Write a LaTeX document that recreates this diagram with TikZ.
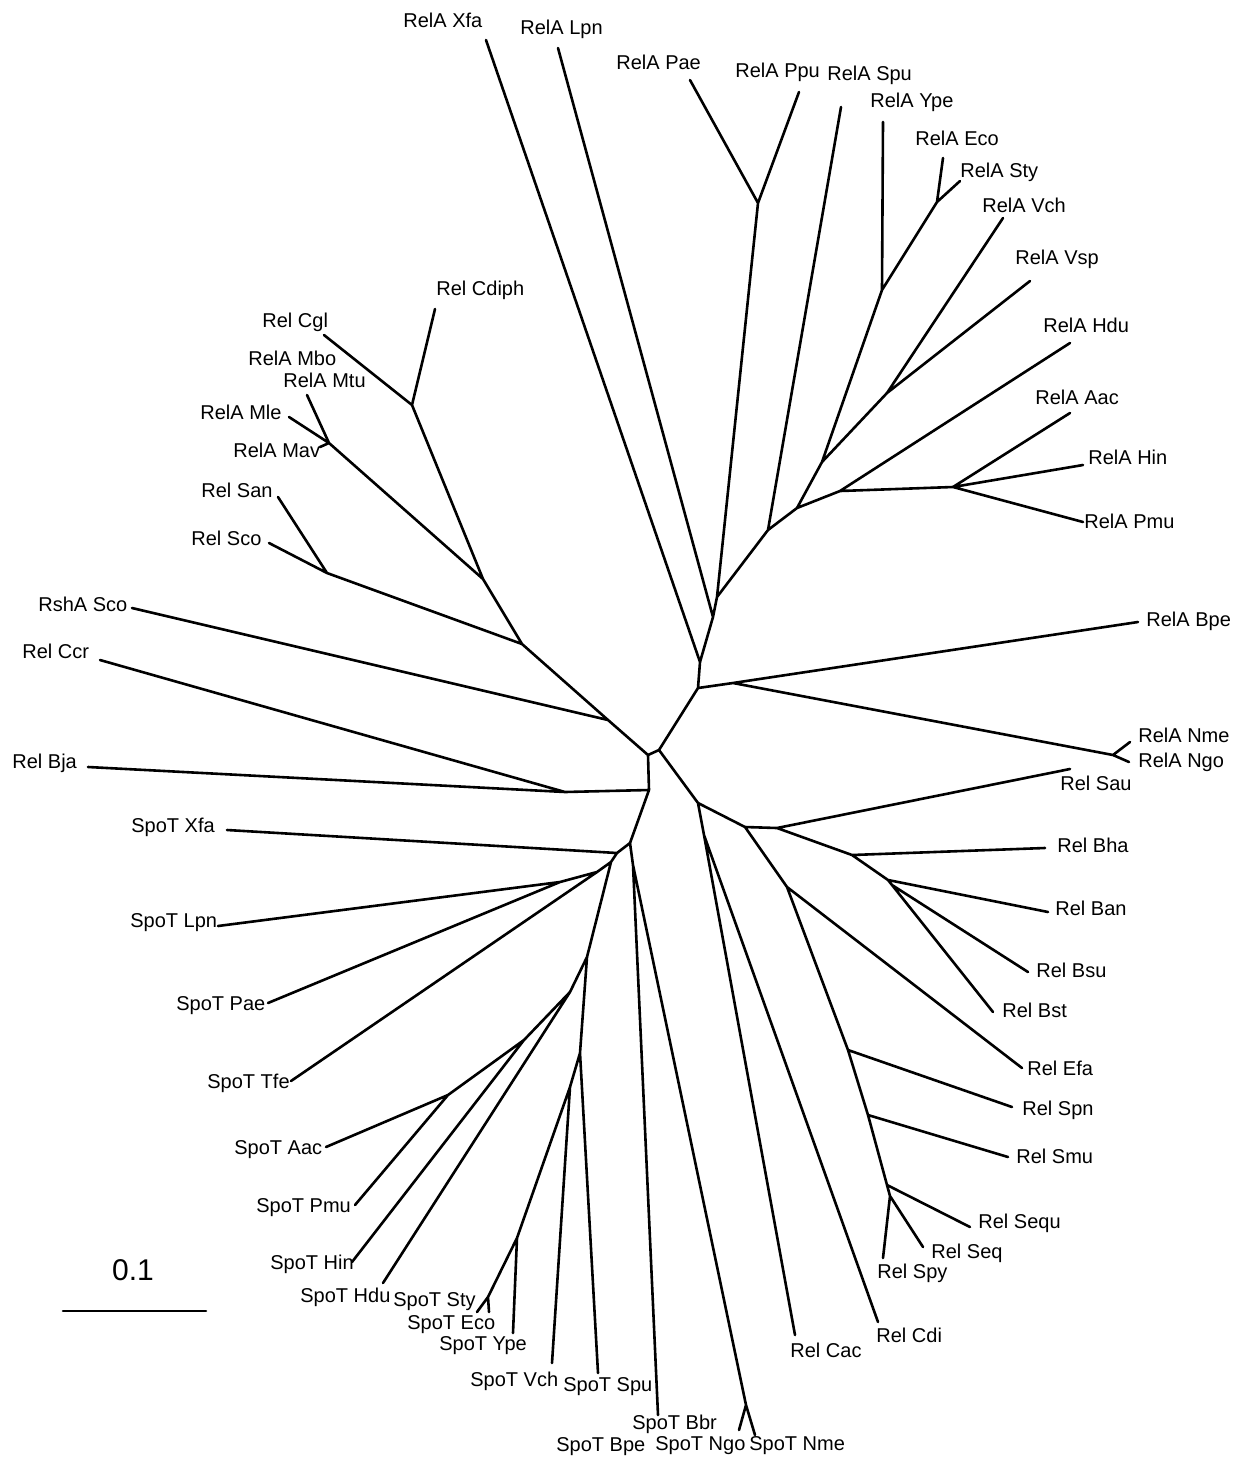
\documentclass[tikz,border=0pt]{standalone}
\usepackage{fontspec}
\setmainfont{Liberation Sans}
\begin{document}
\begin{tikzpicture}[x=0.5pt,y=-0.5pt,
  br/.style={line width=1.3pt, line cap=round, line join=round},
  lab/.style={inner sep=0pt, anchor=base west, font=\fontsize{10}{12}\selectfont}]
\useasboundingbox (0,0) rectangle (1242,1457);
% internal nodes
\coordinate (N0) at (648,755); \coordinate (N1) at (659,750);
\coordinate (B0) at (649,790); \coordinate (CB) at (565,792);
\coordinate (T1) at (608,720); \coordinate (T2) at (522,644);
\coordinate (T3) at (483,579); \coordinate (T4) at (412,405);
\coordinate (MV) at (329,443); \coordinate (SS) at (327,573);
\coordinate (A) at (698,688); \coordinate (X) at (700,662);
\coordinate (BN) at (733,683); \coordinate (NN) at (1113,755);
\coordinate (P1) at (713,617); \coordinate (P2) at (717,597);
\coordinate (PP) at (758,203); \coordinate (S1) at (768,530);
\coordinate (S2) at (797,508); \coordinate (V) at (822,462);
\coordinate (E) at (882,290); \coordinate (ES) at (937,202);
\coordinate (Vn) at (887,393); \coordinate (H) at (840,491);
\coordinate (HP) at (953,487);
\coordinate (R0) at (698,803); \coordinate (R1) at (745,827);
\coordinate (R2) at (704,835); \coordinate (R3) at (777,828);
\coordinate (R5) at (852,855); \coordinate (R6) at (888,880);
\coordinate (R7) at (892,885); \coordinate (R4) at (787,887);
\coordinate (R8) at (848,1050); \coordinate (R9) at (868,1115);
\coordinate (R10) at (887,1185); \coordinate (R11) at (890,1196);
\coordinate (N2) at (630,843); \coordinate (N3) at (617,853);
\coordinate (N4) at (633,865); \coordinate (N5) at (611,862);
\coordinate (Q) at (597,872); \coordinate (LP) at (560,882);
\coordinate (N6) at (587,957); \coordinate (N7) at (570,992);
\coordinate (N8) at (524,1040); \coordinate (N9) at (448,1095);
\coordinate (N10) at (580,1053); \coordinate (N11) at (570,1087);
\coordinate (E2) at (517,1238); \coordinate (ES2) at (488,1297);
\coordinate (NG) at (746,1405);
% leaf ends
\coordinate (lXfa) at (486,40); \coordinate (lLpn) at (558,48);
\coordinate (lPae) at (690,80); \coordinate (lPpu) at (799,92);
\coordinate (lSpu) at (841,107); \coordinate (lYpe) at (883,122);
\coordinate (lEco) at (943,158); \coordinate (lSty) at (960,181);
\coordinate (lVch) at (1003,218); \coordinate (lVsp) at (1030,281);
\coordinate (lHdu) at (1070,343); \coordinate (lAac) at (1070,413);
\coordinate (lHin) at (1083,465); \coordinate (lPmu) at (1083,522);
\coordinate (lBpe) at (1138,622); \coordinate (lNme) at (1130,742);
\coordinate (lNgo) at (1129,762); \coordinate (lSau) at (1070,769);
\coordinate (lBha) at (1045,848); \coordinate (lBan) at (1048,912);
\coordinate (lBsu) at (1028,972); \coordinate (lBst) at (993,1012);
\coordinate (lEfa) at (1022,1068); \coordinate (lSpn) at (1012,1107);
\coordinate (lSmu) at (1008,1157); \coordinate (lSequ) at (970,1227);
\coordinate (lSeq) at (923,1247); \coordinate (lSpy) at (883,1258);
\coordinate (lCdi) at (878,1322); \coordinate (lCac) at (795,1335);
\coordinate (sNme) at (755,1435); \coordinate (sNgo) at (739,1430);
\coordinate (sBbr) at (658,1415); \coordinate (sSpu) at (598,1373);
\coordinate (sVch) at (552,1363); \coordinate (sYpe) at (513,1333);
\coordinate (sEco) at (489,1312); \coordinate (sSty) at (477,1312);
\coordinate (sHdu) at (383,1283); \coordinate (sHin) at (352,1262);
\coordinate (sPmu) at (355,1205); \coordinate (sAac) at (326,1147);
\coordinate (sTfe) at (291,1081); \coordinate (sPae) at (268,1003);
\coordinate (sLpn) at (218,926); \coordinate (sXfa) at (227,830);
\coordinate (lBja) at (88,767); \coordinate (lCcr) at (100,660);
\coordinate (lRshA) at (132,608); \coordinate (lSco) at (269,543);
\coordinate (lSan) at (278,497); \coordinate (lMav) at (320,447);
\coordinate (lMle) at (289,417); \coordinate (lMtu) at (307,395);
\coordinate (lCgl) at (324,335); \coordinate (lCdiph) at (435,309);
% branches
\draw[br] (T4)--(lCdiph) (T4)--(lCgl) (T4)--(T3) (T3)--(MV) (MV)--(lMav) (MV)--(lMle) (MV)--(lMtu)
  (T3)--(T2) (T2)--(SS) (SS)--(lSan) (SS)--(lSco) (T2)--(T1) (T1)--(lRshA) (T1)--(N0)
  (N0)--(N1) (N0)--(B0) (B0)--(CB) (CB)--(lCcr) (CB)--(lBja) (B0)--(N2);
\draw[br] (N1)--(A) (A)--(X) (X)--(lXfa) (X)--(P1) (P1)--(lLpn) (P1)--(P2) (P2)--(PP)
  (PP)--(lPae) (PP)--(lPpu) (P2)--(S1) (S1)--(lSpu) (S1)--(S2) (S2)--(V) (V)--(E)
  (E)--(lYpe) (E)--(ES) (ES)--(lEco) (ES)--(lSty) (V)--(Vn) (Vn)--(lVch) (Vn)--(lVsp)
  (S2)--(H) (H)--(lHdu) (H)--(HP) (HP)--(lAac) (HP)--(lHin) (HP)--(lPmu)
  (A)--(BN) (BN)--(lBpe) (BN)--(NN) (NN)--(lNme) (NN)--(lNgo);
\draw[br] (N1)--(R0) (R0)--(R1) (R1)--(R3) (R3)--(lSau) (R3)--(R5) (R5)--(lBha) (R5)--(R6)
  (R6)--(lBan) (R6)--(R7) (R7)--(lBsu) (R7)--(lBst) (R1)--(R4) (R4)--(lEfa) (R4)--(R8)
  (R8)--(lSpn) (R8)--(R9) (R9)--(lSmu) (R9)--(R10) (R10)--(lSequ) (R10)--(R11)
  (R11)--(lSpy) (R11)--(lSeq) (R0)--(R2) (R2)--(lCac) (R2)--(lCdi);
\draw[br] (N2)--(N3) (N3)--(sXfa) (N3)--(N5) (N5)--(Q) (Q)--(sTfe) (Q)--(LP) (LP)--(sLpn)
  (LP)--(sPae) (N5)--(N6) (N6)--(N7) (N7)--(sHdu) (N7)--(N8) (N8)--(sHin) (N8)--(N9)
  (N9)--(sAac) (N9)--(sPmu) (N6)--(N10) (N10)--(sSpu) (N10)--(N11) (N11)--(sVch)
  (N11)--(E2) (E2)--(sYpe) (E2)--(ES2) (ES2)--(sSty) (ES2)--(sEco)
  (N2)--(N4) (N4)--(sBbr) (N4)--(NG) (NG)--(sNgo) (NG)--(sNme);
% labels
\node[lab] (t1) at (403,27) {RelA Xfa};
\node[lab] (t2) at (520,34) {RelA Lpn};
\node[lab] (t3) at (616,69) {RelA Pae};
\node[lab] (t4) at (735,77) {RelA Ppu};
\node[lab] (t5) at (827,80) {RelA Spu};
\node[lab] (t6) at (870,107) {RelA Ype};
\node[lab] (t7) at (915,145) {RelA Eco};
\node[lab] (t8) at (960,177) {RelA Sty};
\node[lab] (t9) at (982,212) {RelA Vch};
\node[lab] (t10) at (1015,264) {RelA Vsp};
\node[lab] (t11) at (1043,332) {RelA Hdu};
\node[lab] (t12) at (1035,404) {RelA Aac};
\node[lab] (t13) at (1088,464) {RelA Hin};
\node[lab] (t14) at (1084,528) {RelA Pmu};
\node[lab] (t15) at (1146,626) {RelA Bpe};
\node[lab] (t16) at (1138,742) {RelA Nme};
\node[lab] (t17) at (1138,767) {RelA Ngo};
\node[lab] (t18) at (1060,790) {Rel Sau};
\node[lab] (t19) at (1057,852) {Rel Bha};
\node[lab] (t20) at (1055,915) {Rel Ban};
\node[lab] (t21) at (1036,977) {Rel Bsu};
\node[lab] (t22) at (1002,1017) {Rel Bst};
\node[lab] (t23) at (1027,1075) {Rel Efa};
\node[lab] (t24) at (1022,1115) {Rel Spn};
\node[lab] (t25) at (1016,1163) {Rel Smu};
\node[lab] (t26) at (978,1228) {Rel Sequ};
\node[lab] (t27) at (931,1258) {Rel Seq};
\node[lab] (t28) at (877,1278) {Rel Spy};
\node[lab] (t29) at (876,1342) {Rel Cdi};
\node[lab] (t30) at (790,1357) {Rel Cac};
\node[lab] (t31) at (749,1450) {SpoT Nme};
\node[lab] (t32) at (655,1450) {SpoT Ngo};
\node[lab] (t33) at (632,1429) {SpoT Bbr};
\node[lab] (t34) at (556,1451) {SpoT Bpe};
\node[lab] (t35) at (563,1391) {SpoT Spu};
\node[lab] (t36) at (470,1386) {SpoT Vch};
\node[lab] (t37) at (439,1350) {SpoT Ype};
\node[lab] (t38) at (407,1329) {SpoT Eco};
\node[lab] (t39) at (393,1306) {SpoT Sty};
\node[lab] (t40) at (300,1302) {SpoT Hdu};
\node[lab] (t41) at (270,1269) {SpoT Hin};
\node[lab] (t42) at (256,1212) {SpoT Pmu};
\node[lab] (t43) at (234,1154) {SpoT Aac};
\node[lab] (t44) at (207,1088) {SpoT Tfe};
\node[lab] (t45) at (176,1010) {SpoT Pae};
\node[lab] (t46) at (130,927) {SpoT Lpn};
\node[lab] (t47) at (131,832) {SpoT Xfa};
\node[lab] (t48) at (12,768) {Rel Bja};
\node[lab] (t49) at (22,658) {Rel Ccr};
\node[lab] (t50) at (38,611) {RshA Sco};
\node[lab] (t51) at (191,545) {Rel Sco};
\node[lab] (t52) at (201,497) {Rel San};
\node[lab] (t53) at (233,457) {RelA Mav};
\node[lab] (t54) at (200,419) {RelA Mle};
\node[lab] (t55) at (283,387) {RelA Mtu};
\node[lab] (t56) at (248,365) {RelA Mbo};
\node[lab] (t57) at (262,327) {Rel Cgl};
\node[lab] (t58) at (436,295) {Rel Cdiph};
% scale bar
\coordinate (sb1) at (63,1311); \coordinate (sb2) at (206,1311);
\draw[br] (sb1)--(sb2);
\node[inner sep=0pt, font=\fontsize{15}{18}\selectfont] (sbl) at (133,1270) {0.1};
\end{tikzpicture}
\end{document}
